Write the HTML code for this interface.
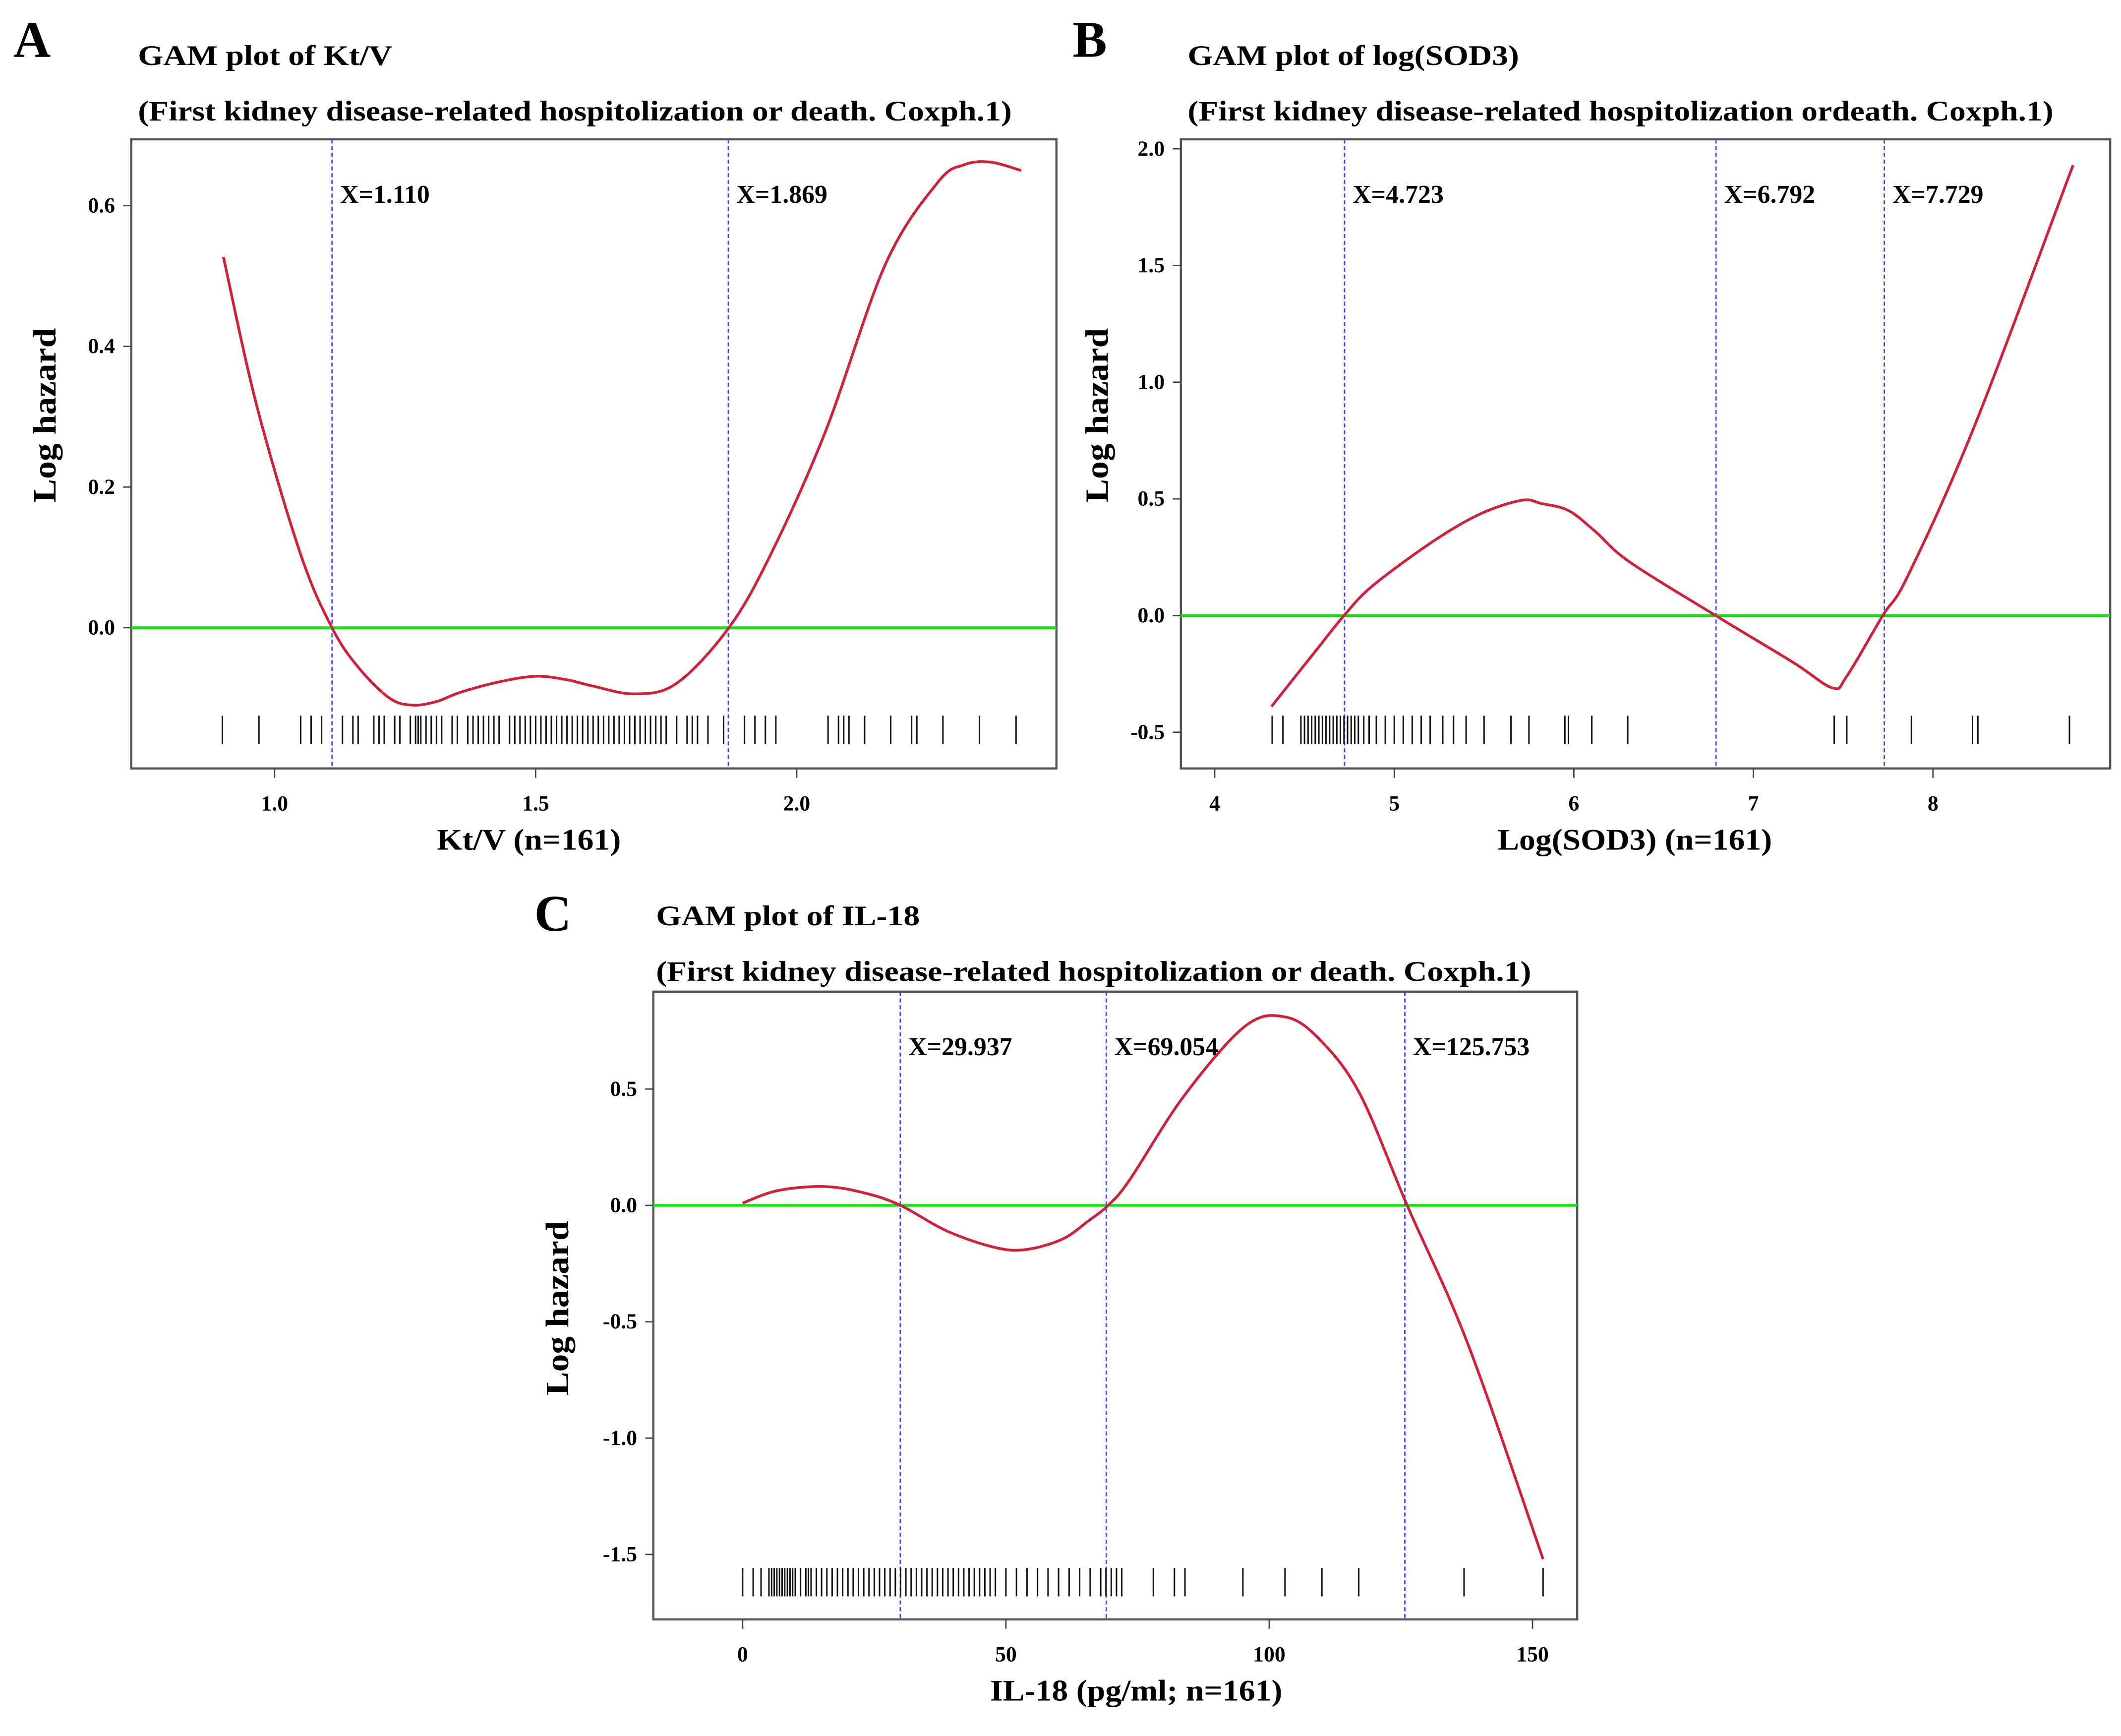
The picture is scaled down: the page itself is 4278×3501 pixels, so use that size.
<!DOCTYPE html>
<html><head><meta charset="utf-8"><style>
html,body{margin:0;padding:0;background:#fff;}
svg{display:block;}
text{font-family:"Liberation Serif",serif;font-weight:bold;fill:#000;}
</style></head><body>
<svg id="fig" width="4278" height="3501" viewBox="0 0 1568 1283.2" preserveAspectRatio="none" xmlns="http://www.w3.org/2000/svg"></svg>
<script>
// Panel A data
const aCurveX=[0.902,0.966,1.05,1.11,1.16,1.22,1.264,1.31,1.355,1.43,1.5,1.56,1.61,1.69,1.77,1.87,1.95,2.054,2.17,2.27,2.32,2.37,2.43];
const aCurveY=[0.527,0.315,0.104,0,-0.056,-0.1,-0.11,-0.105,-0.092,-0.077,-0.069,-0.074,-0.083,-0.094,-0.079,0,0.104,0.277,0.517,0.633,0.658,0.662,0.65];
const aRug=[0.9,0.97,1.05,1.07,1.09,1.13,1.15,1.16,1.19,1.2,1.21,1.23,1.24,1.26,1.27,1.275,1.28,1.29,1.3,1.31,1.32,1.34,1.35,1.37,1.38,1.39,1.4,1.41,1.42,1.43,1.45,1.46,1.47,1.48,1.49,1.5,1.51,1.52,1.53,1.54,1.55,1.56,1.57,1.58,1.59,1.6,1.61,1.62,1.63,1.64,1.65,1.66,1.67,1.68,1.69,1.7,1.71,1.72,1.73,1.74,1.75,1.77,1.79,1.8,1.81,1.83,1.86,1.9,1.92,1.94,1.96,2.06,2.08,2.09,2.1,2.13,2.18,2.22,2.23,2.28,2.35,2.42];
const aYTicks=[0.0,0.2,0.4,0.6];
const aXTicks=[1.0,1.5,2.0];
const aCuts=[1.110,1.869];
// Panel B data
const bCurveX=[4.316,4.58,4.72,4.88,5.22,5.48,5.71,5.82,5.97,6.12,6.31,6.79,7.22,7.44,7.52,7.72,7.86,8.23,8.78];
const bCurveY=[-0.39,-0.134,0,0.128,0.32,0.436,0.494,0.48,0.45,0.36,0.23,0,-0.2,-0.31,-0.26,0,0.17,0.81,1.93];
const bRug=[4.32,4.38,4.48,4.5,4.52,4.54,4.56,4.58,4.6,4.62,4.64,4.66,4.68,4.7,4.72,4.74,4.76,4.78,4.8,4.83,4.86,4.9,4.95,5.0,5.05,5.1,5.15,5.2,5.27,5.33,5.4,5.5,5.65,5.75,5.95,5.97,6.1,6.3,7.45,7.52,7.88,8.22,8.25,8.76];
const bYTicks=[-0.5,0.0,0.5,1.0,1.5,2.0];
const bXTicks=[4,5,6,7,8];
const bCuts=[4.723,6.792,7.729];
// Panel C data
const cCurveX=[0,6.7,15.7,23.4,30,38.8,47.8,53.7,60.7,65.8,69.4,73.5,83.8,95.4,103,109.5,117.2,126.2,137.8,152];
const cCurveY=[0.01,0.064,0.081,0.052,0,-0.11,-0.18,-0.19,-0.145,-0.064,0,0.11,0.47,0.77,0.81,0.715,0.48,0,-0.6,-1.52];
const cRug=[0,2,3.5,5,5.5,6,6.5,7,7.5,8,8.5,9,9.5,10,11,12,12.5,13,14,15,16,17,18,19,20,21,22,23,24,25,26,27,28,29,30,31,32,33,34,35,36,37,38,39,40,41,42,43,44,45,46,47,48,50,52,54,56,58,60,62,64,66,68,69,70,71,72,78,82,84,95,103,110,117,137,152];
const cYTicks=[-1.5,-1.0,-0.5,0.0,0.5];
const cXTicks=[0,50,100,150];
const cCuts=[29.937,69.054,125.753];

const NS="http://www.w3.org/2000/svg";
const svg=document.getElementById('fig');
function mk(tag,attrs,parent){const e=document.createElementNS(NS,tag);for(const k in attrs)e.setAttribute(k,attrs[k]);(parent||svg).appendChild(e);return e;}
function txt(s,x,y,size,parent,anchor,extra){const t=mk('text',Object.assign({x:x,y:y,'font-size':size,'text-anchor':anchor||'start'},extra||{}),parent);t.textContent=s;return t;}
function smooth(pts){let d='M'+pts[0][0].toFixed(2)+','+pts[0][1].toFixed(2);
  for(let i=0;i<pts.length-1;i++){const p0=pts[Math.max(0,i-1)],p1=pts[i],p2=pts[i+1],p3=pts[Math.min(pts.length-1,i+2)];
    const c1=[p1[0]+(p2[0]-p0[0])/6,p1[1]+(p2[1]-p0[1])/6],c2=[p2[0]-(p3[0]-p1[0])/6,p2[1]-(p3[1]-p1[1])/6];
    d+=' C'+c1[0].toFixed(2)+','+c1[1].toFixed(2)+' '+c2[0].toFixed(2)+','+c2[1].toFixed(2)+' '+p2[0].toFixed(2)+','+p2[1].toFixed(2);}
  return d;}

function panel(o){
  const g=mk('g',{});
  
  
  const sx=v=>o.x0px+(v-o.x0v)*o.xs;
  const sy=v=>o.y0px-(v-o.y0v)*o.ys;
  const L=txt(o.letter,o.letterX,o.letterY,38,g);
  
  const t1=txt(o.title,o.titleX,o.titleY,21,g,'start',{textLength:o.tw1,lengthAdjust:'spacingAndGlyphs'});
  
  const t2=txt(o.sub,o.titleX,o.titleY+41,21,g,'start',{textLength:o.tw2,lengthAdjust:'spacingAndGlyphs'});
  
  const fr=mk('rect',{x:o.fx,y:o.fy,width:o.fw,height:o.fh,fill:'none',stroke:'#555','stroke-width':1.6},g);
  
  o.yt.forEach(v=>{const y=sy(v);
    const tk=mk('line',{x1:o.fx-6,x2:o.fx,y1:y,y2:y,stroke:'#444','stroke-width':1},g);
    
    const l=txt(v.toFixed(1),o.fx-12,y+5,16,g,'end');
    });
  o.xt.forEach(v=>{const x=sx(v);
    const tk=mk('line',{x1:x,x2:x,y1:o.fy+o.fh,y2:o.fy+o.fh+7,stroke:'#444','stroke-width':1},g);
    
    const l=txt(o.xfmt(v),x,o.fy+o.fh+31,16,g,'middle');
    });
  const xl=txt(o.xlab,o.xlx,o.fy+o.fh+60,22,g,'start',{textLength:o.xlw,lengthAdjust:'spacingAndGlyphs'});
  
  const cy=o.ylabC;const cx=o.fx-o.ylabDx;
  const yl=txt('Log hazard',cx,cy+8,24,g,'middle',{transform:'rotate(-90 '+cx+' '+cy+')',textLength:129,lengthAdjust:'spacingAndGlyphs'});
  
  const zl=mk('line',{x1:o.fx,x2:o.fx+o.fw,y1:sy(0),y2:sy(0),stroke:'#00ee00','stroke-width':2},g);
  
  o.cuts.forEach(c=>{const x=sx(c);
    const vl=mk('line',{x1:x,x2:x,y1:o.fy,y2:o.fy+o.fh,stroke:'#4040ff','stroke-width':1,'stroke-dasharray':'3,2'},g);
    
    const cl=txt('X='+c.toFixed(3),x+6,o.fy+47,19,g);
    });
  o.rug.forEach(v=>{const x=sx(v);
    const r=mk('line',{x1:x,x2:x,y1:o.rugY,y2:o.rugY+21,stroke:'#111','stroke-width':1.1},g);
    });
  const pts=o.cx.map((v,i)=>[sx(v),sy(o.cy[i])]);
  const p=mk('path',{d:smooth(pts),fill:'none',stroke:'#d0203a','stroke-width':2,'stroke-linejoin':'round'},g);
  
}
panel({id:'a',letter:'A',letterX:10,letterY:42,title:'GAM plot of Kt/V',sub:'(First kidney disease-related hospitolization or death. Coxph.1)',titleX:102,titleY:48,tw1:188,tw2:646,
  fx:97,fy:103,fw:684,fh:465,x0px:203,x0v:1.0,xs:386,y0px:464,y0v:0,ys:520,ylabC:307,ylabDx:64,xlx:323,xlw:136,
  yt:aYTicks,xt:aXTicks,xfmt:v=>v.toFixed(1),xlab:'Kt/V (n=161)',cuts:aCuts,rug:aRug,rugY:529,cx:aCurveX,cy:aCurveY});
panel({id:'b',letter:'B',letterX:793,letterY:42,title:'GAM plot of log(SOD3)',sub:'(First kidney disease-related hospitolization ordeath. Coxph.1)',titleX:878,titleY:48,tw1:245,tw2:640,
  fx:873,fy:103,fw:687,fh:465,x0px:898,x0v:4,xs:132.75,y0px:455,y0v:0,ys:172.5,ylabC:307,ylabDx:62,xlx:1107,xlw:203,
  yt:bYTicks,xt:bXTicks,xfmt:v=>String(v),xlab:'Log(SOD3) (n=161)',cuts:bCuts,rug:bRug,rugY:529,cx:bCurveX,cy:bCurveY});
panel({id:'c',letter:'C',letterX:395,letterY:688,title:'GAM plot of IL-18',sub:'(First kidney disease-related hospitolization or death. Coxph.1)',titleX:485,titleY:684,tw1:195,tw2:647,
  fx:483,fy:733,fw:683,fh:464,x0px:549,x0v:0,xs:3.893,y0px:891,y0v:0,ys:172,ylabC:967,ylabDx:71,xlx:732,xlw:216,
  yt:cYTicks,xt:cXTicks,xfmt:v=>String(v),xlab:'IL-18 (pg/ml; n=161)',cuts:cCuts,rug:cRug,rugY:1159,cx:cCurveX,cy:cCurveY});
</script>
</body></html>
